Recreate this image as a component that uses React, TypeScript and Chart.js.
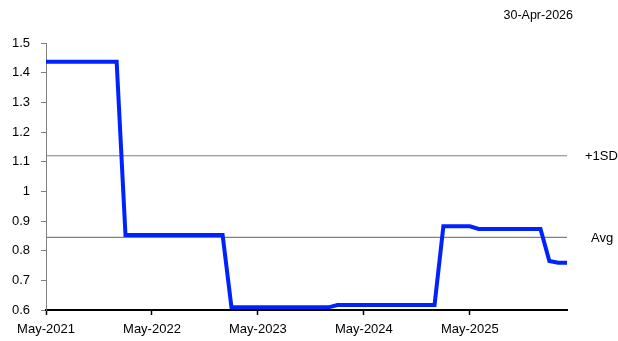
import React, { useEffect, useRef } from "react";
import { Chart, registerables } from "chart.js";

Chart.register(...registerables);

const months = [
  "May-2021", "Jun-2021", "Jul-2021", "Aug-2021", "Sep-2021", "Oct-2021", "Nov-2021", "Dec-2021",
  "Jan-2022", "Feb-2022", "Mar-2022", "Apr-2022", "May-2022", "Jun-2022", "Jul-2022", "Aug-2022",
  "Sep-2022", "Oct-2022", "Nov-2022", "Dec-2022", "Jan-2023", "Feb-2023", "Mar-2023", "Apr-2023",
  "May-2023", "Jun-2023", "Jul-2023", "Aug-2023", "Sep-2023", "Oct-2023", "Nov-2023", "Dec-2023",
  "Jan-2024", "Feb-2024", "Mar-2024", "Apr-2024", "May-2024", "Jun-2024", "Jul-2024", "Aug-2024",
  "Sep-2024", "Oct-2024", "Nov-2024", "Dec-2024", "Jan-2025", "Feb-2025", "Mar-2025", "Apr-2025",
  "May-2025", "Jun-2025", "Jul-2025", "Aug-2025", "Sep-2025", "Oct-2025", "Nov-2025", "Dec-2025",
  "Jan-2026", "Feb-2026", "Mar-2026", "Apr-2026",
];

const xTickLabels = ["May-2021", "May-2022", "May-2023", "May-2024", "May-2025"];

const seriesValues = [
  1.437, 1.437, 1.437, 1.437, 1.437, 1.437, 1.437, 1.437,
  1.437, 0.853, 0.853, 0.853, 0.853, 0.853, 0.853, 0.853,
  0.853, 0.853, 0.853, 0.853, 0.853, 0.609, 0.609, 0.609,
  0.609, 0.609, 0.609, 0.609, 0.609, 0.609, 0.609, 0.609,
  0.609, 0.617, 0.617, 0.617, 0.617, 0.617, 0.617, 0.617,
  0.617, 0.617, 0.617, 0.617, 0.617, 0.882, 0.882, 0.882,
  0.882, 0.873, 0.873, 0.873, 0.873, 0.873, 0.873, 0.873,
  0.873, 0.765, 0.759, 0.759,
];

const avgValue = 0.845;
const plusOneSdValue = 1.12;
const refLabels = ["+1SD", "Avg"];
const asOfDate = "30-Apr-2026";

const yMin = 0.6;
const yMax = 1.5;
const yStep = 0.1;

const FONT = "'Liberation Sans', Arial, sans-serif";

const labelPlugin = {
  id: "refLabels",
  afterDraw(chart: any) {
    const { ctx, chartArea, scales } = chart;
    const y = scales.y;
    ctx.save();
    ctx.font = `13px ${FONT}`;
    ctx.fillStyle = "#000";
    ctx.textBaseline = "middle";
    ctx.textAlign = "left";
    ctx.fillText(refLabels[0], chartArea.right + 18, y.getPixelForValue(plusOneSdValue) + 1);
    ctx.fillText(refLabels[1], chartArea.right + 24, y.getPixelForValue(avgValue) + 1);
    ctx.font = `12.5px ${FONT}`;
    ctx.textAlign = "right";
    ctx.fillText(asOfDate, chartArea.right + 6, 16);
    ctx.restore();
  },
};

export default function App() {
  const canvasRef = useRef<HTMLCanvasElement | null>(null);

  useEffect(() => {
    document.body.style.margin = "0";
    if (!canvasRef.current) return;
    Chart.defaults.font.family = FONT;
    Chart.defaults.font.size = 13;
    Chart.defaults.color = "#000";
    const chart = new Chart(canvasRef.current, {
      type: "line",
      data: {
        labels: months,
        datasets: [
          {
            data: seriesValues,
            borderColor: "#0022FF",
            borderWidth: 4,
            pointRadius: 0,
            tension: 0,
            fill: false,
          },
          {
            data: months.map(() => plusOneSdValue),
            borderColor: "#808080",
            borderWidth: 1.2,
            pointRadius: 0,
            fill: false,
          },
          {
            data: months.map(() => avgValue),
            borderColor: "#808080",
            borderWidth: 1.2,
            pointRadius: 0,
            fill: false,
          },
        ],
      },
      options: {
        animation: false,
        responsive: false,
        devicePixelRatio: 1,
        layout: { padding: { top: 43, right: 51, bottom: 0, left: 0 } },
        plugins: {
          legend: { display: false },
          tooltip: { enabled: false },
          title: { display: false },
        },
        scales: {
          x: {
            type: "category",
            offset: false,
            afterFit: (scale: any) => {
              scale.height = 31;
            },
            grid: {
              drawOnChartArea: false,
              drawTicks: true,
              tickLength: 5,
              tickWidth: 1.5,
              tickColor: (ctx: any) =>
                xTickLabels.includes(months[ctx.index]) ? "#000" : "rgba(0,0,0,0)",
            },
            border: { display: true, color: "#000", width: 2 },
            ticks: {
              autoSkip: false,
              maxRotation: 0,
              minRotation: 0,
              padding: 7,
              color: "#000",
              font: { size: 13 },
              callback: (_v: any, idx: number) =>
                xTickLabels.includes(months[idx]) ? months[idx] : "",
            },
          },
          y: {
            min: yMin,
            max: yMax,
            afterFit: (scale: any) => {
              scale.width = 46;
            },
            grid: {
              drawOnChartArea: false,
              drawTicks: true,
              tickLength: 5,
              tickColor: "#808080",
            },
            border: { display: true, color: "#808080", width: 1 },
            ticks: {
              stepSize: yStep,
              padding: 11,
              color: "#000",
              font: { size: 13 },
              callback: (v: any) => String(Number(Number(v).toFixed(1))),
            },
          },
        },
      },
      plugins: [labelPlugin],
    });
    return () => chart.destroy();
  }, []);

  return (
    <div style={{ width: 618, height: 341 }}>
      <canvas ref={canvasRef} width={618} height={341} style={{ display: "block" }} />
    </div>
  );
}
